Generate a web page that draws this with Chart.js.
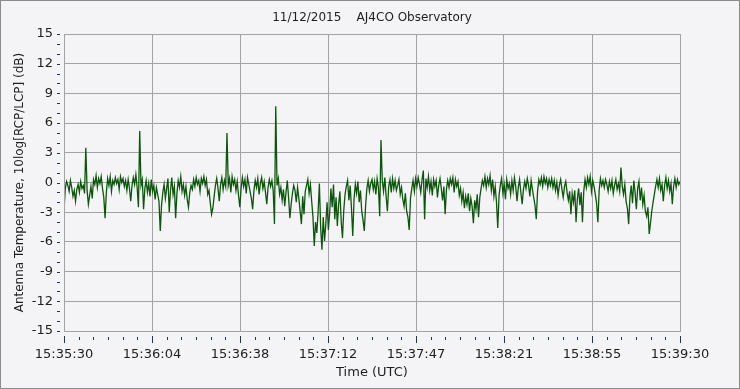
<!DOCTYPE html>
<html>
<head>
<meta charset="utf-8">
<script src="https://cdn.jsdelivr.net/npm/chart.js@4/dist/chart.umd.min.js"></script>
<style>
  html, body { margin: 0; padding: 0; background: #f4f4f6; }
  #wrap { width: 740px; height: 389px; }
</style>
</head>
<body>
<div id="wrap"><canvas id="chart" width="740" height="389"></canvas></div>
<script>
const chartTitle = '11/12/2015    AJ4CO Observatory';
const xTitle = 'Time (UTC)';
const yTitle = 'Antenna Temperature, 10log[RCP/LCP] (dB)';
const timeTicks = ['15:35:30', '15:36:04', '15:36:38', '15:37:12', '15:37:47', '15:38:21', '15:38:55', '15:39:30'];
const spanSeconds = 240;
const sampleSeconds = 0.5;

// one reading every half second, 15:35:30 -> 15:39:30
const ratioDb = [
  -2.8, -0.6, 0.1, -0.3, -0.9, 0.2, -0.5, -1.4, -0.8, -1.9, -0.7, -0.2, -1.0, 0.1, -0.6, -0.3, -1.1, 3.5, -0.8, -2.2,
  -1.3, -0.4, -1.6, 0.3, -0.2, 0.7, -0.5, 0.4, -0.1, 0.6, -0.6, -1.5, -3.6, -1.0, 0.4, -0.3, 0.6, -0.9, 0.2, -0.2,
  0.5, -0.1, 0.3, -0.7, 0.6, 0.0, 0.4, -0.4, 0.2, -0.8, 0.3, -0.6, -1.9, -0.3, 0.5, -0.2, 0.8, -0.5, -2.5, 5.2,
  -0.3, 0.3, -2.7, -0.6, 0.2, -1.0, -0.1, -1.4, 0.3, -0.9, -0.3, -1.7, -0.5, -1.2, -1.9, -4.9, -2.3, -1.0, -0.2, -1.6,
  -0.6, 0.4, -3.0, -0.8, 0.5, -1.2, -0.4, -3.6, -1.1, 0.2, -0.5, 0.6, -0.9, -0.2, -1.3, -0.4, -1.7, -2.5, -1.0, -0.3,
  -0.7, 0.3, -0.4, 0.5, -0.2, 0.2, -0.9, 0.4, -0.1, 0.6, -0.3, 0.3, -1.2, -0.8, -2.1, -3.2, -2.6, -1.4, -0.3, 0.4,
  -0.6, -1.9, -0.2, 0.5, -0.7, 0.2, -0.4, 5.0, -0.3, 0.4, -1.0, 0.6, -0.2, 0.3, -0.8, 0.1, -1.3, -2.5, -0.6, 0.5,
  -0.4, 0.3, -1.1, 0.5, -0.2, -0.9, -1.6, -2.7, -0.8, 0.2, -0.5, 0.4, -1.2, -0.1, 0.5, -0.6, 0.1, -1.0, -2.2, -0.5,
  0.3, -0.4, 0.2, -0.8, -4.2, 7.7, -0.3, 0.4, -1.2, -0.5, -1.8, -0.7, -2.4, -1.0, 0.2, -1.5, -3.6, -2.2, -1.1, -0.3,
  -0.8, -2.0, -0.5, -1.6, -2.9, -4.2, -1.4, -3.2, -0.9, -0.3, 0.3, -1.1, -0.2, -1.9, -3.5, -6.4, -4.0, -5.1, -3.0, -0.1,
  -4.6, -6.8, -3.5, -5.9, -4.2, -2.0, -4.8, -3.1, -0.6, -2.5, -0.2, -3.7, -1.5, -4.4, -2.2, -0.9, -3.9, -5.6, -2.8, -1.2,
  -0.4, 0.2, -1.8, -0.3, -2.6, -5.4, -1.7, -0.2, -1.1, 0.1, -2.0, -0.8, -2.9, -3.8, -4.9, -2.4, -0.6, 0.2, -0.9, -0.1,
  0.3, -0.7, 0.1, -1.2, 0.4, -0.5, -3.4, 4.3, 0.2, -0.9, 0.5, -1.4, -2.9, -0.4, 0.3, -1.0, 0.4, -0.6, 0.2, -0.8,
  -0.3, 0.3, -1.2, -0.5, -1.7, -2.4, -1.1, -2.9, -3.5, -4.8, -1.6, -0.6, 0.2, -0.9, 0.4, -0.4, 0.5, -0.2, -1.0, 0.3,
  1.2, -3.7, 0.4, -0.5, 0.6, -0.8, 0.1, -1.3, 0.3, -0.4, 0.2, -1.5, -0.3, 0.4, -0.6, -1.8, -0.4, -3.2, -0.7, 0.2,
  -0.5, 0.4, -0.2, 0.5, -1.0, 0.3, -0.4, 0.1, -1.3, -0.6, -1.9, -1.0, -2.6, -1.4, -2.2, -1.1, -2.9, -1.6, -2.4, -4.1,
  -1.8, -2.7, -1.2, -3.5, -1.5, -0.6, 0.2, -0.3, 0.6, -0.5, 0.4, -0.2, 0.7, -0.8, 0.3, -1.4, -0.4, -2.0, -4.6, -1.3,
  -0.3, 0.4, -1.1, -0.2, -1.7, 0.3, -0.6, -0.1, -1.2, 0.2, -0.8, 0.5, -0.4, -1.9, -0.5, 0.3, -1.0, -2.2, -0.7, 0.1,
  -0.6, 0.4, -0.3, -1.4, 0.2, -0.7, -1.5, -2.3, -3.7, -0.9, 0.3, -0.2, 0.5, -0.4, 0.6, -0.1, 0.4, -0.5, 0.3, -0.3,
  0.4, -0.5, 0.2, -0.8, 0.0, -1.3, -0.3, 0.3, -0.7, -1.5, -0.4, 0.1, -1.0, -1.8, -0.9, -3.2, -1.1, -2.0, -0.8, -4.0,
  -1.7, -0.6, -2.3, -1.0, -4.0, -0.9, 0.3, -0.5, 0.5, -0.2, 0.6, -0.9, 0.2, -0.4, -1.2, -2.1, -4.0, -0.8, 0.4, -0.3,
  0.2, -0.5, 0.3, -0.2, -0.9, 0.1, -0.6, 0.2, -1.1, -0.3, 0.3, -0.7, -0.1, -0.9, 1.5, -0.4, -1.2, -0.2, -1.9, -2.6,
  -4.2, -1.5, -0.3, -2.1, 0.2, -1.0, -2.7, -0.6, 0.1, -1.8, -0.5, -2.2, -1.3, -2.9, -3.4, -2.5, -5.2, -4.1, -2.9, -2.0,
  -1.2, -0.4, 0.3, -0.5, 0.4, -0.8, -0.2, -1.9, -0.3, 0.5, -0.6, 0.2, -0.9, -0.1, -2.2, -0.4, 0.4, -0.5, 0.3, -0.2, 0.1
];

const FONT = 'DejaVu Sans';
const INK = '#1e1e1e';
const GRID = '#a3a3a3';

const points = ratioDb.map((v, i) => ({ x: i * sampleSeconds, y: v }));

const decor = {
  id: 'decor',
  beforeDraw(chart) {
    const { ctx, width, height } = chart;
    ctx.save();
    ctx.fillStyle = '#f4f4f6';
    ctx.fillRect(0, 0, width, height);
    ctx.strokeStyle = '#8c8c8c';
    ctx.strokeRect(0.5, 0.5, width - 1, height - 1);
    ctx.restore();
  },
  afterDraw(chart) {
    const { ctx, chartArea: a, scales: { x, y } } = chart;
    ctx.save();
    ctx.lineWidth = 1;
    ctx.strokeStyle = GRID;
    ctx.strokeRect(a.left + 0.5, a.top + 0.5, a.right - a.left, a.bottom - a.top);

    // tick marks sit a few pixels off the plot
    ctx.strokeStyle = '#26354f';
    ctx.beginPath();
    const nx = (timeTicks.length - 1) * 6;
    for (let k = 0; k <= nx; k++) {
      const px = Math.round(x.getPixelForValue(k * spanSeconds / nx)) + 0.5;
      const major = k % 6 === 0;
      ctx.moveTo(px, a.bottom + (major ? 5 : 6));
      ctx.lineTo(px, a.bottom + (major ? 12 : 9));
    }
    for (let v = -15; v <= 15; v++) {
      const py = Math.round(y.getPixelForValue(v)) + 0.5;
      ctx.moveTo(a.left - 7, py);
      ctx.lineTo(a.left - 4, py);
    }
    ctx.stroke();

    ctx.fillStyle = INK;
    ctx.font = '12px "' + FONT + '"';
    ctx.textAlign = 'center';
    ctx.textBaseline = 'middle';
    ctx.fillText(chartTitle, (a.left + a.right) / 2, 18);
    ctx.restore();
  }
};

new Chart(document.getElementById('chart'), {
  type: 'line',
  data: {
    datasets: [{
      data: points,
      borderColor: '#0b560b',
      borderWidth: 1.3,
      pointRadius: 0,
      tension: 0,
      fill: false,
    }],
  },
  options: {
    responsive: false,
    animation: false,
    layout: { padding: { top: 34, right: 60, left: 0, bottom: 0 } },
    plugins: { legend: { display: false }, tooltip: { enabled: false } },
    scales: {
      x: {
        type: 'linear',
        min: 0,
        max: spanSeconds,
        afterBuildTicks: (s) => {
          s.ticks = timeTicks.map((_, k) => ({ value: k * spanSeconds / (timeTicks.length - 1) }));
        },
        afterFit: (s) => { s.height = 58; },
        ticks: {
          autoSkip: false,
          maxRotation: 0,
          padding: 16,
          color: INK,
          font: { family: FONT, size: 13 },
          callback: (v, idx) => timeTicks[idx],
        },
        grid: { color: GRID, drawTicks: false },
        border: { display: false },
        title: {
          display: true,
          text: xTitle,
          color: INK,
          font: { family: FONT, size: 13 },
          padding: { top: 0, bottom: 9 },
        },
      },
      y: {
        min: -15,
        max: 15,
        afterFit: (s) => { s.width = 64; },
        ticks: {
          stepSize: 3,
          padding: 11,
          color: INK,
          font: { family: FONT, size: 13 },
        },
        grid: { color: GRID, drawTicks: false },
        border: { display: false },
        title: {
          display: true,
          text: yTitle,
          color: INK,
          font: { family: FONT, size: 12 },
          padding: { top: 13, bottom: 0 },
        },
      },
    },
  },
  plugins: [decor],
});
</script>
</body>
</html>
